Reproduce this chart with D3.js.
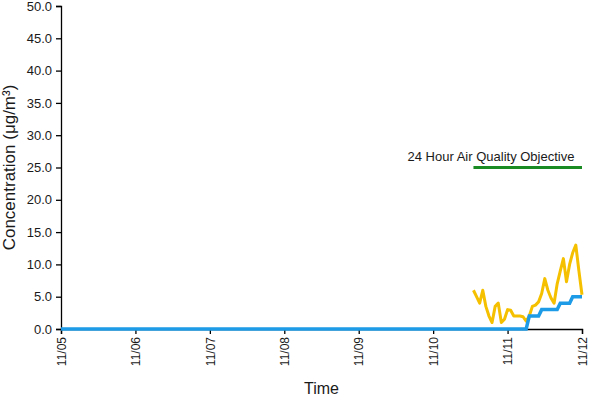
<!DOCTYPE html>
<html><head><meta charset="utf-8">
<script src="https://cdn.jsdelivr.net/npm/d3@7/dist/d3.min.js"></script>
<style>body{margin:0;background:#fff}svg{display:block}text{font-family:"Liberation Sans",Arial,sans-serif;fill:#1a1a1a}</style>
</head><body><svg id="c" width="600" height="400"></svg>
<script>
// Hourly PM2.5 (yellow) – 11/10 13:00 to 11/12 00:00
const pmTimes = ["2014-11-10 13:00","2014-11-10 14:00","2014-11-10 15:00","2014-11-10 16:00","2014-11-10 17:00","2014-11-10 18:00","2014-11-10 19:00","2014-11-10 20:00","2014-11-10 21:00","2014-11-10 22:00","2014-11-10 23:00","2014-11-11 00:00","2014-11-11 01:00","2014-11-11 02:00","2014-11-11 03:00","2014-11-11 04:00","2014-11-11 05:00","2014-11-11 06:00","2014-11-11 07:00","2014-11-11 08:00","2014-11-11 09:00","2014-11-11 10:00","2014-11-11 11:00","2014-11-11 12:00","2014-11-11 13:00","2014-11-11 14:00","2014-11-11 15:00","2014-11-11 16:00","2014-11-11 17:00","2014-11-11 18:00","2014-11-11 19:00","2014-11-11 20:00","2014-11-11 21:00","2014-11-11 22:00","2014-11-11 23:00","2014-11-12 00:00"];
const pmValues = [6.0,5.0,4.0,6.0,3.5,2.0,1.0,3.5,4.0,1.0,1.5,3.0,2.9,2.0,2.0,2.0,1.9,1.2,2.0,3.5,3.7,4.2,5.5,7.8,6.0,4.8,4.0,7.0,9.0,10.9,7.3,10.0,11.8,13.0,9.0,5.3];
// 24-hour mean (blue)
const avgTimes = ["2014-11-05 00:00","2014-11-11 06:00","2014-11-11 07:00","2014-11-11 10:00","2014-11-11 11:00","2014-11-11 16:00","2014-11-11 17:00","2014-11-11 20:00","2014-11-11 21:00","2014-11-12 00:00"];
const avgValues = [0,0,2,2,3,3,4,4,5,5];
// Objective
const objTimes = ["2014-11-10 13:00","2014-11-12 00:00"];
const objValue = 25;
const objLabel = "24 Hour Air Quality Objective";
const yTicks = [0,5,10,15,20,25,30,35,40,45,50];
const xTickDates = ["2014-11-05","2014-11-06","2014-11-07","2014-11-08","2014-11-09","2014-11-10","2014-11-11","2014-11-12"];

const parseT = d3.timeParse("%Y-%m-%d %H:%M");
const parseD = d3.timeParse("%Y-%m-%d");
const svg = d3.select("#c");
const m = {l:61, r:18, t:6, b:71};
const W = 600, H = 400;
const x = d3.scaleTime().domain([parseD(xTickDates[0]), parseD(xTickDates[xTickDates.length-1])]).range([m.l, W-m.r]);
const y = d3.scaleLinear().domain([0,50]).range([H-m.b, m.t]);

const yAx = svg.append("g").attr("transform",`translate(${m.l},0)`)
  .call(d3.axisLeft(y).tickValues(yTicks).tickFormat(d3.format(".1f")).tickSize(5).tickPadding(4));
yAx.selectAll("text").style("font-size","13px");
const xAx = svg.append("g").attr("transform",`translate(0,${H-m.b})`)
  .call(d3.axisBottom(x).tickValues(xTickDates.map(parseD)).tickFormat(d3.timeFormat("%m/%d")).tickSize(5));
xAx.selectAll("text").style("font-size","12px").attr("transform","rotate(-90)")
  .attr("text-anchor","end").attr("x",-8).attr("y",0).attr("dy","0.35em");
svg.selectAll(".domain,.tick line").attr("stroke","#000").attr("stroke-width",1.3);

const line = d3.line().x(d=>x(d[0])).y(d=>y(d[1]));
svg.append("path").datum(objTimes.map(t=>[parseT(t),objValue])).attr("d",line)
  .attr("fill","none").attr("stroke","#1a8a22").attr("stroke-width",3);
svg.append("text").attr("x",491).attr("y",161).attr("text-anchor","middle").style("font-size","13px").text(objLabel);
svg.append("path").datum(pmTimes.map((t,i)=>[parseT(t),pmValues[i]])).attr("d",line)
  .attr("fill","none").attr("stroke","#f5c000").attr("stroke-width",3).attr("stroke-linejoin","round");
svg.append("path").datum(avgTimes.map((t,i)=>[parseT(t),avgValues[i]])).attr("d",line)
  .attr("fill","none").attr("stroke","#1e9be6").attr("stroke-width",3.5);

svg.append("text").attr("transform",`translate(15,${(H-m.b+m.t)/2}) rotate(-90)`).attr("text-anchor","middle")
  .style("font-size","17px").text("Concentration (μg/m³)");
svg.append("text").attr("x",(m.l+W-m.r)/2).attr("y",394).attr("text-anchor","middle").style("font-size","16px").text("Time");
</script></body></html>
